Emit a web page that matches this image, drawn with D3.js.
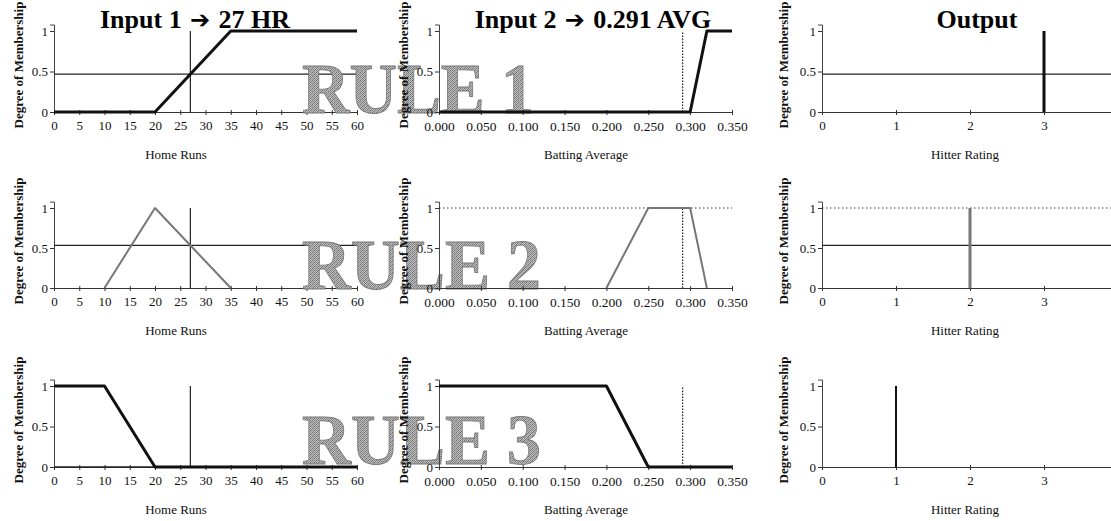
<!DOCTYPE html>
<html><head><meta charset="utf-8">
<script src="https://cdn.jsdelivr.net/npm/d3@7"></script>
<style>
html,body{margin:0;padding:0;background:#fff;}
svg{display:block;font-family:"Liberation Serif","Times New Roman",serif;}
</style></head>
<body><svg id="c" width="1111" height="521"></svg>
<script>
// ---- data ----
const hrTicks = [0,5,10,15,20,25,30,35,40,45,50,55,60];
const avgTicks = [0,0.05,0.1,0.15,0.2,0.25,0.3,0.35];
const ratingTicks = [0,1,2,3];
const membershipTicks = [0,0.5,1];
const inputHR = 27;
const inputAVG = 0.291;
const titleLeft = ["Input 1", "Input 2", "Output"];
const titleRight = ["27 HR", "0.291 AVG", ""];
const axisTitles = ["Home Runs", "Batting Average", "Hitter Rating"];
const ruleLabels = ["RULE 1", "RULE 2", "RULE 3"];
const hrMFx = [[0,20,35,60],[10,20,35],[0,10,20,60]];
const hrMFy = [[0,0,1,1],[0,1,0],[1,1,0,0]];
const avgMFx = [[0,0.3,0.32,0.35],[0.2,0.25,0.3,0.32],[0,0.2,0.25,0.35]];
const avgMFy = [[0,0,1,1],[0,1,1,0],[1,1,0,0]];
const hrMembership = [0.467, 0.533, 0];
const avgMembership = [0, 1, 0];
const outputRating = [3, 2, 1];
const outputHeight = [1, 1, 1];

// ---- layout ----
const svg = d3.select("#c");
const defs = svg.append("defs");
const pat = defs.append("pattern").attr("id","ht").attr("patternUnits","userSpaceOnUse")
  .attr("width",4).attr("height",4);
pat.append("rect").attr("width",4).attr("height",4).attr("fill","#bdbdbd");
[[0,0,"#6a6a6a"],[2,0,"#8a8a8a"],[1,1,"#9a9a9a"],[3,1,"#7a7a7a"],[0,2,"#8a8a8a"],[2,2,"#6a6a6a"],[1,3,"#7a7a7a"],[3,3,"#9a9a9a"]]
  .forEach(([px,py,f]) => pat.append("rect").attr("x",px).attr("y",py).attr("width",1).attr("height",1).attr("fill",f));

const cols = [
  {x0:54, x1:357, domain:[0,60], ticks:hrTicks, fmt:d=>String(d), titleX:176, yTitleX:18, tickFont:13},
  {x0:439, x1:732, domain:[0,0.35], ticks:avgTicks, fmt:d3.format(".3f"), titleX:586, yTitleX:403, tickFont:13.5},
  {x0:822, x1:1118, domain:[0,4], ticks:ratingTicks, fmt:d=>String(d), titleX:965, yTitleX:783, tickFont:13}
];
const rows = [{y0:112,y1:31},{y0:288,y1:208},{y0:467,y1:386}];

function scales(r,c){
  const x = d3.scaleLinear().domain(cols[c].domain).range([cols[c].x0, cols[c].x1]);
  const y = d3.scaleLinear().domain([0,1]).range([rows[r].y0, rows[r].y1]);
  return {x,y};
}

function drawAxes(g, r, c){
  const {x,y} = scales(r,c);
  const yA = d3.scaleLinear().domain([0,1.08]).range([rows[r].y0, y(1.08)]);
  const xa = g.append("g").attr("transform",`translate(0,${rows[r].y0})`)
    .call(d3.axisBottom(x).tickValues(cols[c].ticks).tickFormat(cols[c].fmt).tickSizeOuter(0).tickSize(3).tickPadding(6));
  xa.selectAll(".tick line").attr("y1",-2).attr("y2",3);
  xa.selectAll("text").attr("font-size",cols[c].tickFont).attr("fill","#111")
    .attr("font-family","Liberation Serif");
  xa.select(".domain").attr("stroke","#333");
  xa.selectAll(".tick line").attr("stroke","#333");
  const ya = g.append("g").attr("transform",`translate(${cols[c].x0},0)`)
    .call(d3.axisLeft(yA).tickValues(membershipTicks).tickFormat(d=>String(d)).tickSizeOuter(0).tickSize(4).tickPadding(2));
  ya.selectAll("text").attr("font-size",13).attr("fill","#111").attr("font-family","Liberation Serif");
  ya.select(".domain").attr("stroke","#444");
  ya.selectAll(".tick line").attr("stroke","#333");
  g.append("text").attr("x",cols[c].titleX).attr("y",rows[r].y0+47).attr("text-anchor","middle")
    .attr("font-size",13).attr("fill","#111").text(axisTitles[c]);
  g.append("text").attr("transform",`translate(${cols[c].yTitleX},${rows[r].y0-47}) rotate(-90)`)
    .attr("text-anchor","middle").attr("dy","0.35em").attr("font-size",13).attr("font-weight","bold")
    .attr("fill","#111").text("Degree of Membership");
}

function path(g, x, y, xs, ys, stroke, width, dash){
  const line = d3.line().x(d=>x(d[0])).y(d=>y(d[1]));
  const p = g.append("path").attr("d", line(xs.map((v,i)=>[v, ys[i]])))
    .attr("fill","none").attr("stroke",stroke).attr("stroke-width",width)
    .attr("stroke-linejoin","round");
  if (dash) p.attr("stroke-dasharray", dash);
  return p;
}

// column 1 panels
rows.forEach((row, r) => {
  const g = svg.append("g");
  drawAxes(g, r, 0);
  const {x,y} = scales(r,0);
  const gray = r===1;
  path(g, x, y, [0,60], [hrMembership[r], hrMembership[r]], "#222", 1.3);
  path(g, x, y, [inputHR, inputHR], [0,1], "#222", 1.2);
  path(g, x, y, hrMFx[r], hrMFy[r], gray ? "#777" : "#111", gray ? 2 : 3);
});

// RULE labels
ruleLabels.forEach((t, r) => {
  svg.append("text").attr("x",302).attr("y",rows[r].y0 + (r===2 ? -3 : 1))
    .attr("font-size",72).attr("font-weight","bold")
    .attr("textLength", r===0 ? 232 : 239).attr("lengthAdjust","spacingAndGlyphs")
    .attr("fill","url(#ht)").attr("stroke","#7a7a7a").attr("stroke-width",0.9)
    .text(t);
});

// column 2 panels
rows.forEach((row, r) => {
  const g = svg.append("g");
  drawAxes(g, r, 1);
  const {x,y} = scales(r,1);
  const gray = r===1;
  if (avgMembership[r] > 0) path(g, x, y, [0,0.35], [avgMembership[r], avgMembership[r]], "#333", 1, "1.5,2.5");
  path(g, x, y, [inputAVG, inputAVG], [0,1], "#222", 1.2, "1.5,1.5");
  path(g, x, y, avgMFx[r], avgMFy[r], gray ? "#777" : "#111", gray ? 2 : 3);
});

// column 3 panels
rows.forEach((row, r) => {
  const g = svg.append("g");
  drawAxes(g, r, 2);
  const {x,y} = scales(r,2);
  if (avgMembership[r] > 0) path(g, x, y, [0,4], [avgMembership[r], avgMembership[r]], "#333", 1, "1.5,2.5");
  if (hrMembership[r] > 0) path(g, x, y, [0,4], [hrMembership[r], hrMembership[r]], "#222", 1.3);
  const oc = r===1 ? "#777" : "#111";
  path(g, x, y, [outputRating[r], outputRating[r]], [0, outputHeight[r]], oc, r===2 ? 2 : 3);
});

// column titles
const titleX = [195, 593, 977];
titleLeft.forEach((t, c) => {
  const tx = svg.append("text").attr("x", titleX[c]).attr("y", 28).attr("text-anchor","middle")
    .attr("font-size",26).attr("font-weight","bold").attr("fill","#000");
  tx.append("tspan").text(t);
  if (titleRight[c]) {
    tx.append("tspan").attr("font-family","DejaVu Sans").attr("font-size",24).text(" \u2794 ");
    tx.append("tspan").text(titleRight[c]);
  }
});
</script></body></html>
